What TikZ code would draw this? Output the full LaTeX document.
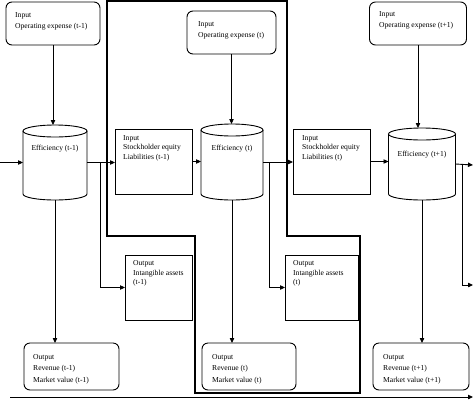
\documentclass[tikz,border=0pt]{standalone}
\usepackage{fontspec}
\setmainfont{Liberation Serif}
\usetikzlibrary{arrows.meta,calc}
\newcommand\drawcyl[2]{%
  \draw[ln] ([yshift=-6pt]#1.north) ellipse [x radius=#2pt, y radius=6pt];
  \draw[ln] ([yshift=-6pt]#1.north west) -- ([yshift=6pt]#1.south west)
     arc[start angle=180,end angle=360,x radius=#2pt,y radius=6pt]
     -- ([yshift=-6pt]#1.north east);}
\begin{document}
\begin{tikzpicture}[x=1pt,y=-1pt,
  ln/.style={line width=0.9pt},
  rbox/.style={draw, ln, rounded corners=6pt, inner sep=0pt, outer sep=0pt},
  sbox/.style={draw, ln, inner sep=0pt, outer sep=0pt},
  cylbase/.style={inner sep=0pt, outer sep=0pt},
  txt/.style={font=\fontsize{7.6}{11.2}\selectfont, align=left, inner sep=0pt, anchor=north west},
  txts/.style={font=\fontsize{7.6}{9.3}\selectfont, align=left, inner sep=0pt, anchor=north west},
  ctxt/.style={font=\fontsize{7.6}{9}\selectfont, inner sep=0pt},
  arr/.style={ln, -{Triangle[length=5pt,width=4.4pt]}},
  outline/.style={line width=2pt}]
\useasboundingbox (0,0) rectangle (474,400);

% thick outline
\draw[outline] (107,1) -- (287,1) -- (287,236) -- (360,236) -- (360,393) -- (195,393) -- (195,236) -- (107,236) -- cycle;

% input boxes
\node[rbox, minimum width=94pt, minimum height=43pt] (in1) at (53,23.5) {};
\node[rbox, minimum width=89pt, minimum height=43pt] (in2) at (231.5,32.5) {};
\node[rbox, minimum width=97pt, minimum height=43pt] (in3) at (418,23.5) {};
\node[txt] (in1t) at (15,12.5) {Input\\Operating expense (t-1)};
\node[txt] (in2t) at (198,21.5) {Input\\Operating expense (t)};
\node[txt] (in3t) at (379,11.5) {Input\\Operating expense (t+1)};

% cylinders
\node[cylbase, minimum width=64pt, minimum height=75pt] (cy1) at (55,162.5) {};
\node[cylbase, minimum width=62pt, minimum height=76pt] (cy2) at (232,162) {};
\node[cylbase, minimum width=67pt, minimum height=72pt] (cy3) at (422,164) {};
\drawcyl{cy1}{32}
\drawcyl{cy2}{31}
\drawcyl{cy3}{33.5}
\node[ctxt] (cy1t) at (55,149) {Efficiency (t-1)};
\node[ctxt] (cy2t) at (232,149) {Efficiency (t)};
\node[ctxt] (cy3t) at (422,155) {Efficiency (t+1)};

% stockholder boxes
\node[sbox, minimum width=77pt, minimum height=65pt] (st1) at (153.5,161.5) {};
\node[sbox, minimum width=77pt, minimum height=65pt] (st2) at (331.5,161.5) {};
\node[txts] (st1t) at (123,135.5) {Input\\Stockholder equity\\Liabilities (t-1)};
\node[txts] (st2t) at (302,135.5) {Input\\Stockholder equity\\Liabilities (t)};

% intangible boxes
\node[sbox, minimum width=67pt, minimum height=65pt] (ia1) at (158.5,287.5) {};
\node[sbox, minimum width=73pt, minimum height=65pt] (ia2) at (321.5,287.5) {};
\node[txts] (ia1t) at (133,260.5) {Output\\Intangible assets\\(t-1)};
\node[txts] (ia2t) at (293,260.5) {Output\\Intangible assets\\(t)};

% output boxes
\node[rbox, minimum width=95pt, minimum height=47pt] (out1) at (71.5,366.5) {};
\node[rbox, minimum width=94pt, minimum height=47pt] (out2) at (249,366.5) {};
\node[rbox, minimum width=96pt, minimum height=47pt] (out3) at (421,366.5) {};
\node[txt] (out1t) at (33,354.5) {Output\\Revenue (t-1)\\Market value (t-1)};
\node[txt] (out2t) at (212,354.5) {Output\\Revenue (t)\\Market value (t)};
\node[txt] (out3t) at (383,354.5) {Output\\Revenue (t+1)\\Market value (t+1)};

% free ends
\coordinate (lin) at (0,162.5);
\coordinate (rout) at (473,165);
\coordinate (rbr) at (473,285);
\coordinate (bst) at (10,397);
\coordinate (ben) at (473,397);
\coordinate (b1) at (100,162.5);
\coordinate (b2) at (269,162);
\coordinate (b3) at (462,165);

% connectors
\draw[arr] (in1.south) -- (in1.south |- cy1.north);
\draw[arr] (in2.south) -- (in2.south |- cy2.north);
\draw[arr] (in3.south) -- (in3.south |- cy3.north);

\draw[arr] (lin) -- (cy1.west);
\draw[arr] (cy1.east) -- (cy1.east -| st1.west);
\draw[arr] (st1.east) -- (st1.east -| cy2.west);
\draw[arr] (cy2.east) -- (cy2.east -| st2.west);
\draw[arr] (st2.east) -- (st2.east -| cy3.west);
\draw[arr] (cy3.east) -- (rout);

\draw[arr] (b1) |- (ia1.west);
\draw[arr] (b2) |- (ia2.west);
\draw[arr] (b3) |- (rbr);

\draw[arr] (cy1.south) -- (cy1.south |- out1.north);
\draw[arr] (cy2.south) -- (cy2.south |- out2.north);
\draw[arr] (cy3.south) -- (cy3.south |- out3.north);

\draw[arr] (bst) -- (ben);
\end{tikzpicture}
\end{document}
